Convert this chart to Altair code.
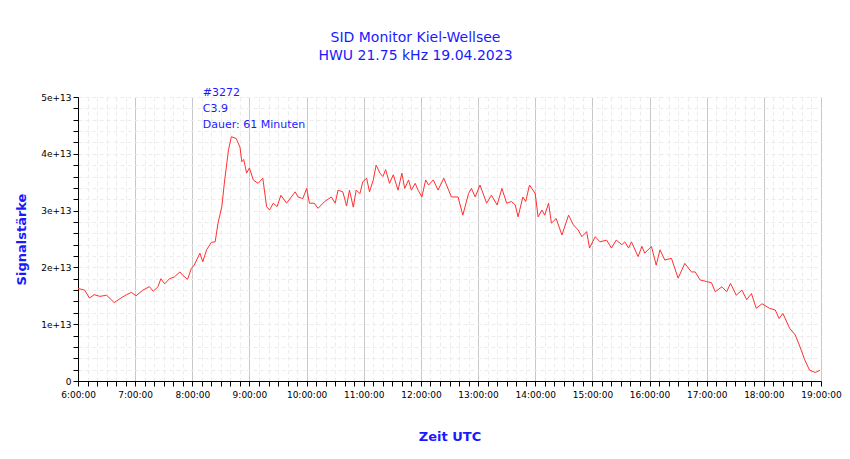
import altair as alt
import pandas as pd

# minutes after 06:00 UTC and signal strength in units of 1e13
minutes = [
    0, 7, 12, 17, 23, 30, 38, 45, 51, 56, 61, 68, 75, 79, 84, 87, 91, 96, 101, 107,
    110, 115, 119, 122, 128, 131, 135, 140, 144, 147, 151, 154, 158, 161, 166, 170, 172, 174, 177, 180,
    184, 189, 194, 198, 201, 205, 209, 213, 219, 228, 231, 236, 240, 243, 248, 252, 259, 266, 270, 273,
    278, 282, 285, 289, 292, 296, 299, 303, 306, 310, 313, 317, 320, 323, 327, 331, 336, 340, 343, 347,
    350, 354, 357, 361, 365, 368, 373, 378, 384, 392, 399, 404, 410, 413, 417, 422, 429, 434, 440, 445,
    450, 455, 459, 462, 467, 470, 474, 480, 483, 487, 490, 494, 497, 502, 508, 515, 520, 525, 529, 534,
    537, 543, 548, 555, 560, 565, 571, 574, 578, 581, 588, 592, 595, 602, 607, 611, 616, 623, 630, 637,
    644, 648, 653, 660, 665, 669, 676, 681, 685, 691, 697, 702, 707, 712, 718, 726, 732, 736, 740, 747,
    753, 758, 763, 768, 774, 779,
]
signal = [
    1.63, 1.60, 1.46, 1.52, 1.49, 1.51, 1.38, 1.46, 1.52, 1.56, 1.50, 1.60, 1.66, 1.58, 1.66, 1.80, 1.71, 1.80, 1.83, 1.92,
    1.86, 1.79, 1.98, 2.04, 2.25, 2.10, 2.31, 2.44, 2.45, 2.78, 3.07, 3.54, 4.07, 4.30, 4.27, 4.12, 3.86, 3.90, 3.66, 3.75,
    3.54, 3.48, 3.57, 3.07, 3.01, 3.13, 3.07, 3.27, 3.13, 3.33, 3.24, 3.21, 3.39, 3.13, 3.13, 3.04, 3.16, 3.24, 3.13, 3.36,
    3.33, 3.08, 3.36, 3.06, 3.36, 3.30, 3.51, 3.57, 3.33, 3.54, 3.80, 3.66, 3.60, 3.72, 3.48, 3.63, 3.36, 3.66, 3.39, 3.54,
    3.36, 3.48, 3.36, 3.24, 3.54, 3.45, 3.54, 3.36, 3.57, 3.24, 3.24, 2.92, 3.30, 3.39, 3.24, 3.45, 3.13, 3.27, 3.10, 3.39,
    3.13, 3.16, 3.10, 2.89, 3.24, 3.16, 3.45, 3.30, 2.89, 3.01, 2.92, 3.13, 2.78, 2.86, 2.57, 2.92, 2.75, 2.66, 2.54, 2.63,
    2.34, 2.54, 2.45, 2.48, 2.34, 2.48, 2.40, 2.45, 2.34, 2.45, 2.19, 2.37, 2.25, 2.37, 2.04, 2.31, 2.13, 2.16, 1.81, 2.07,
    1.92, 1.92, 1.78, 1.75, 1.73, 1.57, 1.66, 1.57, 1.72, 1.51, 1.60, 1.43, 1.54, 1.28, 1.36, 1.28, 1.25, 1.10, 1.19, 0.93,
    0.81, 0.60, 0.37, 0.19, 0.15, 0.19,
]
x_ticks = list(range(0, 781, 10))
y_ticks = [round(i * 0.2, 1) for i in range(26)]
event_text = "#3272\nC3.9\nDauer: 61 Minuten"
event_min = 131

df = pd.DataFrame({"t": minutes, "v": signal})
blue = "#1a1aff"
font = "DejaVu Sans"

x_axis = alt.Axis(
    values=x_ticks,
    labelExpr="datum.value % 60 == 0 ? (floor(datum.value / 60) + 6) + ':00:00' : ''",
    title="Zeit UTC", titleColor=blue, titleFontSize=13, titleFont=font, titlePadding=31,
    labelFont=font, labelFontSize=9, labelColor="black", labelPadding=4,
    domainColor="black", tickColor="black", tickSize=5,
    gridColor={"condition": {"test": "datum.value % 60 == 0", "value": "#c8c8c8"}, "value": "#ececec"},
    gridDash={"condition": {"test": "datum.value % 60 == 0", "value": []}, "value": [4, 3]},
    labelOverlap=False, labelFlush=False,
)
y_axis = alt.Axis(
    values=y_ticks,
    labelExpr="abs(datum.value - round(datum.value)) < 0.01 ? (datum.value == 0 ? '0' : round(datum.value) + 'e+13') : ''",
    title="Signalstärke", titleColor=blue, titleFontSize=13, titleFont=font, titlePadding=12,
    labelFont=font, labelFontSize=9, labelColor="black",
    domainColor="black", tickColor="black", tickSize=5,
    gridColor="#ececec", gridDash=[4, 3], labelOverlap=False, labelFlush=False,
)
x_enc = alt.X("t:Q", scale=alt.Scale(domain=[0, 780], nice=False), axis=x_axis)
y_enc = alt.Y("v:Q", scale=alt.Scale(domain=[0, 5], nice=False), axis=y_axis)

line = alt.Chart(df).mark_line(color="#ff3030", strokeWidth=1).encode(x=x_enc, y=y_enc)

note = alt.Chart(pd.DataFrame({"t": [event_min], "v": [5.17], "txt": [event_text]})).mark_text(
    align="left", baseline="top", color=blue, font=font, fontSize=11, lineBreak="\n", lineHeight=16
).encode(x=x_enc, y=y_enc, text="txt:N")

chart = (line + note).properties(
    width=743, height=284,
    autosize=alt.AutoSizeParams(type="none"),
    padding={"left": 70, "top": 89, "right": 21, "bottom": 70},
    title=alt.TitleParams(
        ["SID Monitor Kiel-Wellsee", "HWU 21.75 kHz 19.04.2023"],
        color=blue, font=font, fontSize=14, fontWeight="normal", lineHeight=18,
        anchor="middle", offset=30, dx=-34, dy=6,
    ),
).configure_view(stroke=None).configure_axis(titleFontWeight="bold")

chart.save("out.html", embed_options={"renderer": "svg", "actions": False})
